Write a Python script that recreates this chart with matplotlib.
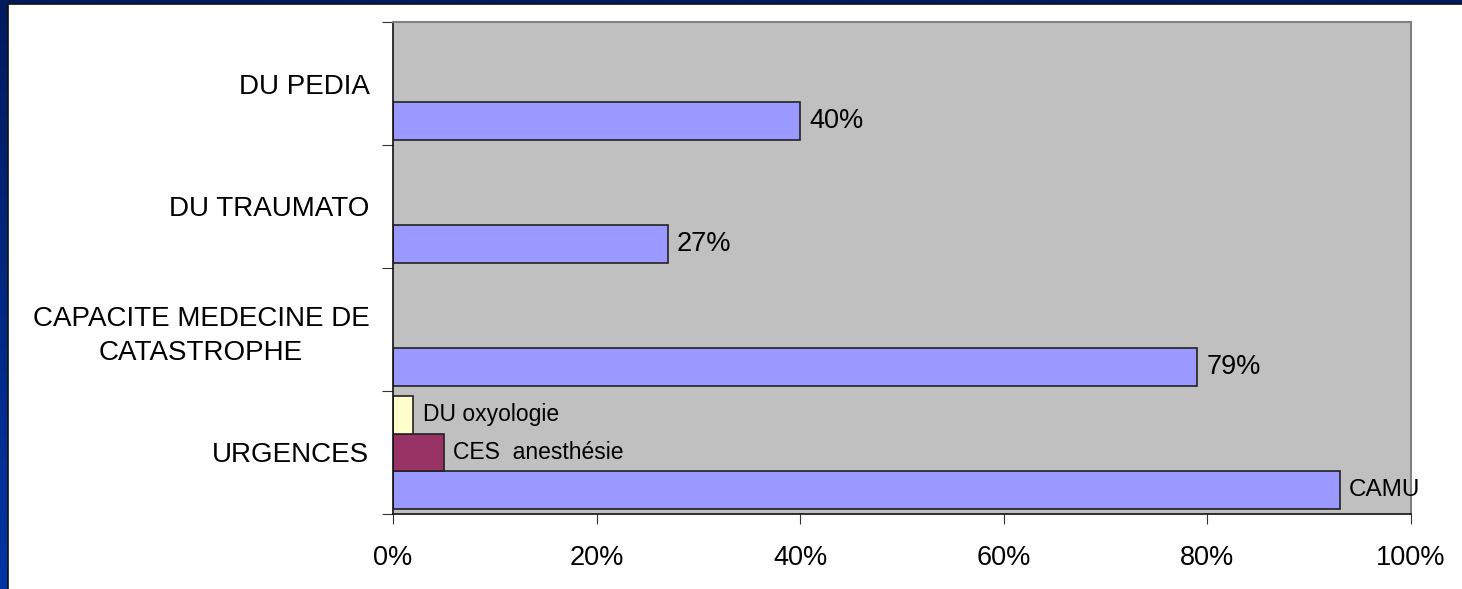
import numpy as np
import matplotlib
matplotlib.use('Agg')
import matplotlib.pyplot as plt
from matplotlib.patches import Rectangle
from matplotlib.ticker import FixedLocator, NullFormatter

plt.rcParams['font.family'] = ['Liberation Sans', 'DejaVu Sans']

# categories (bottom to top)
categories = ['URGENCES', 'CAPACITE MEDECINE DE\nCATASTROPHE', 'DU TRAUMATO', 'DU PEDIA']

# three series, in percent
camu = [93, 79, 27, 40]
ces = [5, np.nan, np.nan, np.nan]
oxy = [2, np.nan, np.nan, np.nan]

camu_labels = ['CAMU', '79%', '27%', '40%']
ces_labels = ['CES  anesthésie', '', '', '']
oxy_labels = ['DU oxyologie', '', '', '']

xticks = [0, 20, 40, 60, 80, 100]

W, H = 1462, 589
fig = plt.figure(figsize=(W / 100, H / 100), dpi=100)

# fond de la diapo : bandeau bleu a gauche et en haut
bg = fig.add_axes([0, 0, 1, 1], zorder=-10)
grad = np.linspace(0, 1, 256).reshape(-1, 1)
cmap = matplotlib.colors.LinearSegmentedColormap.from_list('slide', ['#0035a5', '#001a5e'])
bg.imshow(grad, aspect='auto', cmap=cmap, origin='lower', extent=[0, 1, 0, 1])
bg.set_xlim(0, 1)
bg.set_ylim(0, 1)
bg.axis('off')
bg.add_patch(Rectangle((8 / W, -0.1), 1.2, 0.1 + (H - 4) / H, facecolor='white',
                       edgecolor='#111111', linewidth=1.2, transform=bg.transAxes,
                       clip_on=True))

ax = fig.add_axes([393 / W, (H - 514) / H, (1411 - 393) / W, (514 - 22) / H])
ax.set_facecolor('#C0C0C0')

y = np.arange(len(categories))
h = 0.305
ax.barh(y - h, camu, height=h, color='#9999FF', edgecolor='#222222', linewidth=1.2)
ax.barh(y, ces, height=h, color='#993366', edgecolor='#222222', linewidth=1.2)
ax.barh(y + h, oxy, height=h, color='#FFFFCC', edgecolor='#222222', linewidth=1.2)

for i in range(len(categories)):
    if camu_labels[i]:
        fs = 17.5 if camu_labels[i] == 'CAMU' else 19.5
        ax.text(camu[i] + 0.9, y[i] - h, camu_labels[i], va='center', ha='left', fontsize=fs)
    if ces_labels[i]:
        ax.text(ces[i] + 0.9, y[i], ces_labels[i], va='center', ha='left', fontsize=16.5)
    if oxy_labels[i]:
        ax.text(oxy[i] + 0.9, y[i] + h, oxy_labels[i], va='center', ha='left', fontsize=16.5)

ax.set_xlim(0, 100)
ax.set_ylim(-0.5, len(categories) - 0.5)

ax.set_xticks(xticks)
ax.set_xticklabels([f'{v}%' for v in xticks], fontsize=19.5)
ax.tick_params(axis='x', length=7, pad=15, color='#333333')

ax.yaxis.set_major_locator(FixedLocator(np.arange(len(categories) + 1) - 0.5))
ax.yaxis.set_major_formatter(NullFormatter())
ax.set_yticks(y, minor=True)
ax.set_yticklabels(categories, minor=True, fontsize=20, linespacing=1.38, multialignment='center')
ax.tick_params(axis='y', which='major', length=8, color='#333333')
ax.tick_params(axis='y', which='minor', length=0, pad=17)

for s in ['left', 'bottom']:
    ax.spines[s].set_color('#111111')
    ax.spines[s].set_linewidth(1.2)
for s in ['top', 'right']:
    ax.spines[s].set_color('#808080')
    ax.spines[s].set_linewidth(1.5)

fig.savefig('out.png', dpi=100)
